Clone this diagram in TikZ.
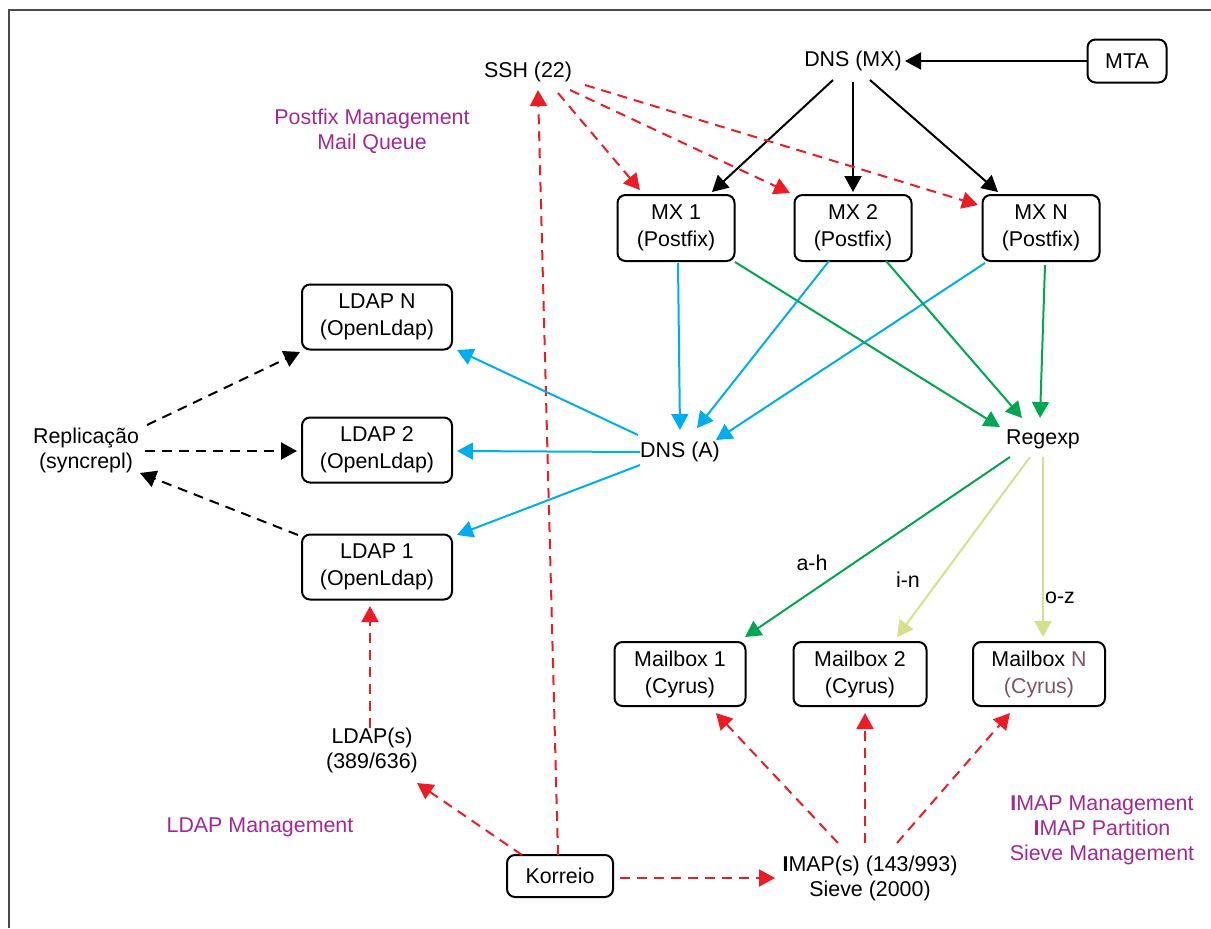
\documentclass[tikz,border=0pt]{standalone}
\usepackage{fontspec}
\setmainfont{Liberation Sans}
\usetikzlibrary{arrows.meta}
\definecolor{ared}{RGB}{237,28,36}
\definecolor{ablue}{RGB}{0,174,239}
\definecolor{agreen}{RGB}{0,166,81}
\definecolor{alime}{RGB}{213,224,138}
\definecolor{apurple}{RGB}{163,40,150}
\definecolor{amauve}{RGB}{123,85,104}
\begin{document}
\begin{tikzpicture}[x=0.5pt,y=-0.5pt,
  every node/.style={font=\fontsize{10.7pt}{12.5pt}\selectfont, align=center, inner sep=0pt},
  srv/.style={draw, line width=1pt, rounded corners=4pt, minimum width=58.5pt, minimum height=33pt,
    font=\fontsize{10.7pt}{13.5pt}\selectfont},
  lbl/.style={},
  note/.style={text=apurple},
  conn/.style={line width=1pt, -{Triangle[length=8pt,width=8.5pt]}},
  solidk/.style={conn, black},
  dashr/.style={conn, ared, dash pattern=on 5pt off 3.5pt},
  dashk/.style={conn, black, dash pattern=on 5pt off 3.5pt},
  blu/.style={conn, ablue},
  grn/.style={conn, agreen},
  lime/.style={conn, alime}]
\useasboundingbox (0,0) rectangle (1211,928);
% outer frame
\draw[line width=1pt, black!70] (9,928) -- (9,10) -- (1211,10);

% nodes
\node[srv, minimum width=39.5pt, minimum height=21.5pt] (mta) at (1127,61) {MTA};
\node[lbl] (dnsmx) at (853,61) {DNS (MX)};
\node[lbl] (ssh) at (528,72) {SSH (22)};
\node[note] (pfm) at (372,131) {Postfix Management\\Mail Queue};
\node[srv] (mx1) at (676,228) {MX 1\\(Postfix)};
\node[srv] (mx2) at (853,228) {MX 2\\(Postfix)};
\node[srv] (mxn) at (1041,228) {MX N\\(Postfix)};
\node[srv, minimum width=75pt, minimum height=32.5pt] (ldapn) at (377,317) {LDAP N\\(OpenLdap)};
\node[srv, minimum width=75pt, minimum height=32.5pt] (ldap2) at (377,450) {LDAP 2\\(OpenLdap)};
\node[srv, minimum width=75pt, minimum height=32.5pt] (ldap1) at (377,567) {LDAP 1\\(OpenLdap)};
\node[lbl] (repl) at (86,450) {Replicação\\(syncrepl)};
\node[lbl] (dnsa) at (680,452) {DNS (A)};
\node[lbl] (regexp) at (1043,439) {Regexp};
\node[lbl] (ah) at (812,563) {a-h};
\node[lbl] (in) at (908,580) {i-n};
\node[lbl] (oz) at (1060,598) {o-z};
\node[srv, minimum width=65.5pt, minimum height=32pt] (mb1) at (680,674) {Mailbox 1\\(Cyrus)};
\node[srv, minimum width=66.5pt, minimum height=32pt] (mb2) at (860,674) {Mailbox 2\\(Cyrus)};
\node[srv, minimum width=66pt, minimum height=32pt] (mbn) at (1039,674) {Mailbox \textcolor{amauve}{N}\\\textcolor{amauve}{(Cyrus)}};
\node[lbl] (ldaps) at (372,750) {LDAP(s)\\(389/636)};
\node[note] (ldapm) at (260,827) {LDAP Management};
\node[srv, minimum width=53pt, minimum height=21pt] (korreio) at (560,876) {Korreio};
\node[lbl] (imap) at (870,878) {\textbf{I}MAP(s) (143/993)\\Sieve (2000)};
\node[note] (imapm) at (1102,830) {\textbf{I}MAP Management\\\textbf{I}MAP Partition\\Sieve Management};

% MTA and DNS (MX)
\draw[solidk] (mta.west) -- ([shift={(52,0)}]dnsmx.center);
\draw[solidk] ([shift={(-20,19)}]dnsmx.center) -- ([shift={(36,-36)}]mx1.center);
\draw[solidk] ([shift={(0,21)}]dnsmx.center) -- ([shift={(0,-36)}]mx2.center);
\draw[solidk] ([shift={(17,19)}]dnsmx.center) -- ([shift={(-43,-36)}]mxn.center);

% SSH management
\draw[dashr] ([shift={(30,21)}]ssh.center) -- ([shift={(-36,-38)}]mx1.center);
\draw[dashr] ([shift={(42,18)}]ssh.center) -- ([shift={(-63,-35)}]mx2.center);
\draw[dashr] ([shift={(57,13)}]ssh.center) -- ([shift={(-63,-23)}]mxn.center);
\draw[dashr] ([shift={(-2,-21)}]korreio.center) -- ([shift={(10,18)}]ssh.center);

% LDAP management
\draw[dashr] ([shift={(-38,-21)}]korreio.center) -- ([shift={(45,33)}]ldaps.center);
\draw[dashr] ([shift={(-2,-22)}]ldaps.center) -- ([shift={(-7,39)}]ldap1.center);

% IMAP management
\draw[dashr] ([shift={(60,2)}]korreio.center) -- ([shift={(-95,0)}]imap.center);
\draw[dashr] ([shift={(-32,-35)}]imap.center) -- ([shift={(36,39)}]mb1.center);
\draw[dashr] ([shift={(-5,-35)}]imap.center) -- ([shift={(5,39)}]mb2.center);
\draw[dashr] ([shift={(27,-35)}]imap.center) -- ([shift={(-29,39)}]mbn.center);

% DNS (A) lookups
\draw[blu] ([shift={(2,35)}]mx1.center) -- ([shift={(0,-22)}]dnsa.center);
\draw[blu] ([shift={(-24,33)}]mx2.center) -- ([shift={(17,-24)}]dnsa.center);
\draw[blu] ([shift={(-56,35)}]mxn.center) -- ([shift={(36,-12)}]dnsa.center);
\draw[blu] ([shift={(-42,-17)}]dnsa.center) -- ([shift={(80,33)}]ldapn.center);
\draw[blu] ([shift={(-40,0)}]dnsa.center) -- ([shift={(80,1)}]ldap2.center);
\draw[blu] ([shift={(-40,13)}]dnsa.center) -- ([shift={(80,-32)}]ldap1.center);

% routing by regexp
\draw[grn] ([shift={(59,34)}]mx1.center) -- ([shift={(-43,-12)}]regexp.center);
\draw[grn] ([shift={(33,33)}]mx2.center) -- ([shift={(-21,-21)}]regexp.center);
\draw[grn] ([shift={(4,37)}]mxn.center) -- ([shift={(-3,-21)}]regexp.center);
\draw[grn] ([shift={(-33,18)}]regexp.center) -- ([shift={(65,-37)}]mb1.center);
\draw[lime] ([shift={(-13,18)}]regexp.center) -- ([shift={(37,-37)}]mb2.center);
\draw[lime] ([shift={(0,18)}]regexp.center) -- ([shift={(4,-37)}]mbn.center);

% replication
\draw[dashk] ([shift={(61,-25)}]repl.center) -- ([shift={(-77,35)}]ldapn.center);
\draw[dashk] ([shift={(59,1)}]repl.center) -- ([shift={(-80,1)}]ldap2.center);
\draw[dashk] ([shift={(-79,-32)}]ldap1.center) -- ([shift={(54,23)}]repl.center);
\end{tikzpicture}
\end{document}
